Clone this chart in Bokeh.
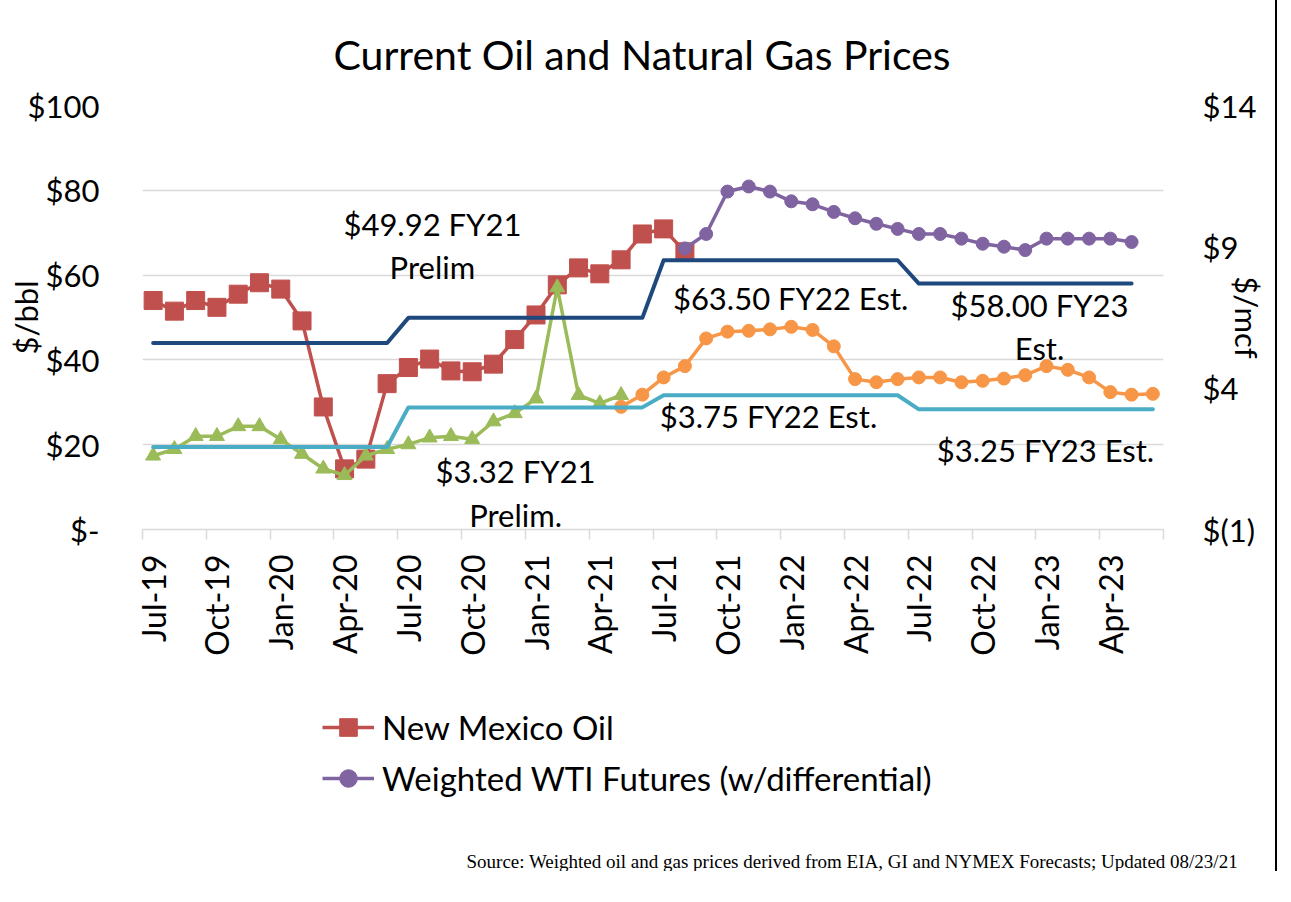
import math
import numpy as np
import pandas as pd
from bokeh.plotting import figure
from bokeh.layouts import column
from bokeh.models import (Range1d, LinearAxis, FixedTicker, Label, Legend,
                          LegendItem, ColumnDataSource, Title)
from bokeh.embed import file_html
from bokeh.resources import INLINE

# ---------------- data ----------------
months = list(pd.date_range("2019-07-01", periods=48, freq="MS").strftime("%b-%y"))

nm_oil = [54.0, 51.5, 54.0, 52.4, 55.5, 58.2, 56.7, 49.2, 28.9, 14.3, 16.6, 34.4,
          38.2, 40.2, 37.4, 37.2, 39.0, 44.8, 50.6, 57.7, 61.7, 60.3, 63.6, 69.7,
          70.9, 65.5, None, None, None, None, None, None, None, None, None, None,
          None, None, None, None, None, None, None, None, None, None, None, None]

wti_futures = [None, None, None, None, None, None, None, None, None, None, None, None,
               None, None, None, None, None, None, None, None, None, None, None, None,
               None, 66.3, 69.7, 79.7, 80.9, 79.7, 77.4, 76.7, 74.9, 73.4, 72.1, 70.9,
               69.7, 69.7, 68.6, 67.4, 66.7, 65.9, 68.6, 68.6, 68.6, 68.6, 67.8, None]

gas_actual = [1.61, 1.84, 2.30, 2.30, 2.65, 2.65, 2.19, 1.67, 1.15, 0.92, 1.61, 1.84,
              2.01, 2.25, 2.30, 2.19, 2.82, 3.11, 3.63, 7.56, 3.75, 3.46, 3.75, None,
              None, None, None, None, None, None, None, None, None, None, None, None,
              None, None, None, None, None, None, None, None, None, None, None, None]

gas_futures = [None, None, None, None, None, None, None, None, None, None, None, None,
               None, None, None, None, None, None, None, None, None, None, 3.34, 3.77,
               4.38, 4.78, 5.76, 6.00, 6.03, 6.08, 6.17, 6.06, 5.48, 4.32, 4.21, 4.32,
               4.38, 4.38, 4.21, 4.26, 4.34, 4.46, 4.78, 4.65, 4.38, 3.86, 3.77, 3.80]

oil_fy = [44.00, 44.00, 44.00, 44.00, 44.00, 44.00, 44.00, 44.00, 44.00, 44.00, 44.00, 44.00,
          49.92, 49.92, 49.92, 49.92, 49.92, 49.92, 49.92, 49.92, 49.92, 49.92, 49.92, 49.92,
          63.50, 63.50, 63.50, 63.50, 63.50, 63.50, 63.50, 63.50, 63.50, 63.50, 63.50, 63.50,
          58.00, 58.00, 58.00, 58.00, 58.00, 58.00, 58.00, 58.00, 58.00, 58.00, 58.00, None]

gas_fy = [1.92, 1.92, 1.92, 1.92, 1.92, 1.92, 1.92, 1.92, 1.92, 1.92, 1.92, 1.92,
          3.32, 3.32, 3.32, 3.32, 3.32, 3.32, 3.32, 3.32, 3.32, 3.32, 3.32, 3.32,
          3.75, 3.75, 3.75, 3.75, 3.75, 3.75, 3.75, 3.75, 3.75, 3.75, 3.75, 3.75,
          3.25, 3.25, 3.25, 3.25, 3.25, 3.25, 3.25, 3.25, 3.25, 3.25, 3.25, 3.25]

oil_ticks = [0, 20, 40, 60, 80, 100]
oil_tick_labels = ["$-", "$20", "$40", "$60", "$80", "$100"]
gas_ticks = [-1, 4, 9, 14]
gas_tick_labels = ["$(1)", "$4", "$9", "$14"]

oil_notes = ["$49.92 FY21\nPrelim", "$63.50 FY22 Est.", "$58.00 FY23\nEst."]
gas_notes = ["$3.32 FY21\nPrelim.", "$3.75 FY22 Est.", "$3.25 FY23 Est."]

legend_labels = ["New Mexico Oil", "Weighted WTI Futures (w/differential)"]
title_text = "Current Oil and Natural Gas Prices"
source_text = "Source: Weighted oil and gas prices derived from EIA, GI and NYMEX Forecasts; Updated 08/23/21"

# ---------------- styling ----------------
FONT = "Lato"
FS = "31px"
RED, PURPLE, GREEN, ORANGE, NAVY, CYAN = "#C0504D", "#8064A2", "#9BBB59", "#F79646", "#1F497D", "#4BACC6"
GRID = "#D9D9D9"
W = 1275

x = list(range(len(months)))


def arr(v):
    return np.array([np.nan if a is None else a for a in v], dtype=float)


src = ColumnDataSource(dict(x=x, nm=arr(nm_oil), wti=arr(wti_futures), ga=arr(gas_actual),
                            gf=arr(gas_futures), ofy=arr(oil_fy), gfy=arr(gas_fy)))

# ================= main chart =================
p = figure(width=W, height=670, output_backend="svg", toolbar_location=None,
           x_range=Range1d(-0.5, 47.5), y_range=Range1d(0, 100),
           min_border_left=142, min_border_right=112, min_border_top=96,
           min_border_bottom=141)
p.extra_y_ranges = {"gas": Range1d(-1, 14)}
p.outline_line_color = None
p.background_fill_color = "white"
p.border_fill_color = "white"

p.title.text = title_text
p.title.align = "left"
p.title.offset = 191
p.title.text_font = FONT
p.title.text_font_size = "41px"
p.title.text_font_style = "normal"
p.title.text_color = "black"
p.title.standoff = 54

p.xgrid.visible = False
p.ygrid.grid_line_color = GRID
p.ygrid.grid_line_width = 1.3

xa = p.xaxis[0]
xa.ticker = FixedTicker(ticks=list(range(0, 48, 3)),
                        minor_ticks=[i - 0.5 for i in range(0, 49, 3)])
xa.major_label_overrides = {i: months[i] for i in range(0, 48, 3)}
xa.major_label_orientation = math.pi / 2
xa.major_label_text_font = FONT
xa.major_label_text_font_size = "32px"
xa.major_label_text_color = "black"
xa.axis_line_color = GRID
xa.axis_line_width = 1.5
xa.major_tick_line_color = None
xa.major_tick_out = 10
xa.major_tick_in = 0
xa.minor_tick_line_color = GRID
xa.minor_tick_line_width = 1.5
xa.minor_tick_out = 10
xa.minor_tick_in = 0
xa.major_label_standoff = 15

ya = p.yaxis[0]
ya.ticker = FixedTicker(ticks=oil_ticks)
ya.major_label_overrides = {t: l for t, l in zip(oil_ticks, oil_tick_labels)}
ya.major_label_text_font = FONT
ya.major_label_text_font_size = FS
ya.major_label_text_color = "black"
ya.axis_line_color = None
ya.major_tick_line_color = None
ya.minor_tick_line_color = None
ya.major_tick_out = 0
ya.major_tick_in = 0
ya.major_label_standoff = 43
ya.axis_label = "$/bbl"
ya.axis_label_text_font = FONT
ya.axis_label_text_font_size = FS
ya.axis_label_text_font_style = "normal"
ya.axis_label_text_color = "black"
ya.axis_label_standoff = -20

ra = LinearAxis(y_range_name="gas", ticker=FixedTicker(ticks=gas_ticks))
ra.major_label_overrides = {t: l for t, l in zip(gas_ticks, gas_tick_labels)}
ra.major_label_text_font = FONT
ra.major_label_text_font_size = FS
ra.major_label_text_color = "black"
ra.axis_line_color = None
ra.major_tick_line_color = None
ra.minor_tick_line_color = None
ra.major_tick_out = 0
ra.major_tick_in = 0
ra.major_label_standoff = 39
ra.axis_label = "$/mcf"
ra.axis_label_text_font = FONT
ra.axis_label_text_font_size = FS
ra.axis_label_text_font_style = "normal"
ra.axis_label_text_color = "black"
ra.axis_label_standoff = -31
p.add_layout(ra, "right")

lw = 3.5
p.line("x", "nm", source=src, color=RED, line_width=lw, line_join="round", line_cap="round")
p.scatter("x", "nm", source=src, marker="square", size=18, color=RED)
p.line("x", "wti", source=src, color=PURPLE, line_width=lw, line_join="round", line_cap="round")
p.scatter("x", "wti", source=src, marker="circle", size=13, color=PURPLE)
p.line("x", "ga", source=src, color=GREEN, line_width=lw, line_join="round", line_cap="round", y_range_name="gas")
p.scatter("x", "ga", source=src, marker="triangle", size=15, color=GREEN, y_range_name="gas")
p.line("x", "gf", source=src, color=ORANGE, line_width=lw, line_join="round", line_cap="round", y_range_name="gas")
p.scatter("x", "gf", source=src, marker="circle", size=13, color=ORANGE, y_range_name="gas")
p.line("x", "ofy", source=src, color=NAVY, line_width=4, line_join="round", line_cap="round")
p.line("x", "gfy", source=src, color=CYAN, line_width=4, line_join="round", line_cap="round", y_range_name="gas")

oil_note_pos = [(13.13, 67.0), (29.97, 54.7), (41.67, 47.9)]
gas_note_pos = [(17.04, 0.28), (28.93, 3.02), (41.95, 1.81)]
for t, (lx, ly) in zip(oil_notes, oil_note_pos):
    p.add_layout(Label(x=lx, y=ly, text=t, text_align="center", text_baseline="middle",
                       text_font=FONT, text_font_size=FS, text_color="black",
                       text_line_height=1.15))
for t, (lx, ly) in zip(gas_notes, gas_note_pos):
    p.add_layout(Label(x=lx, y=ly, text=t, text_align="center", text_baseline="middle",
                       text_font=FONT, text_font_size=FS, text_color="black",
                       text_line_height=1.15, y_range_name="gas"))

# ================= legend + source strip =================
q = figure(width=W, height=201, output_backend="svg", toolbar_location=None,
           x_range=Range1d(0, 1), y_range=Range1d(0, 1),
           x_axis_location=None, y_axis_location=None,
           min_border_left=0, min_border_right=0, min_border_top=0, min_border_bottom=0)
q.outline_line_color = None
q.grid.visible = False
q.background_fill_color = "white"
q.border_fill_color = "white"

# legend keys share the series styles (their points sit outside this strip's view)
k_nm_l = q.line(x=[-5, -4], y=[-5, -5], color=RED, line_width=lw)
k_nm_m = q.scatter(x=[-5], y=[-5], marker="square", size=18, color=RED)
k_wti_l = q.line(x=[-5, -4], y=[-5, -5], color=PURPLE, line_width=lw)
k_wti_m = q.scatter(x=[-5], y=[-5], marker="circle", size=13, color=PURPLE)

legend = Legend(items=[LegendItem(label=legend_labels[0], renderers=[k_nm_l, k_nm_m]),
                       LegendItem(label=legend_labels[1], renderers=[k_wti_l, k_wti_m])],
                location=(180, 48), orientation="vertical",
                label_text_font=FONT, label_text_font_size="33px", label_text_color="black",
                glyph_width=52, glyph_height=44, label_height=40, spacing=7,
                label_standoff=8, padding=0, margin=0,
                border_line_color=None, background_fill_alpha=0)
q.add_layout(legend, "center")

q.add_layout(Title(text=source_text, align="left", offset=324, standoff=0,
                   text_font="Liberation Serif", text_font_size="19px",
                   text_font_style="normal", text_color="black"), "below")

layout = column(p, q, spacing=0)
try:
    layout.styles = {"box-shadow": "-2px 0 0 0 #000, 2px 0 0 0 #000, 0 -2px 0 0 #000"}
except Exception:
    pass
open("out.html", "w").write(file_html(layout, INLINE))
